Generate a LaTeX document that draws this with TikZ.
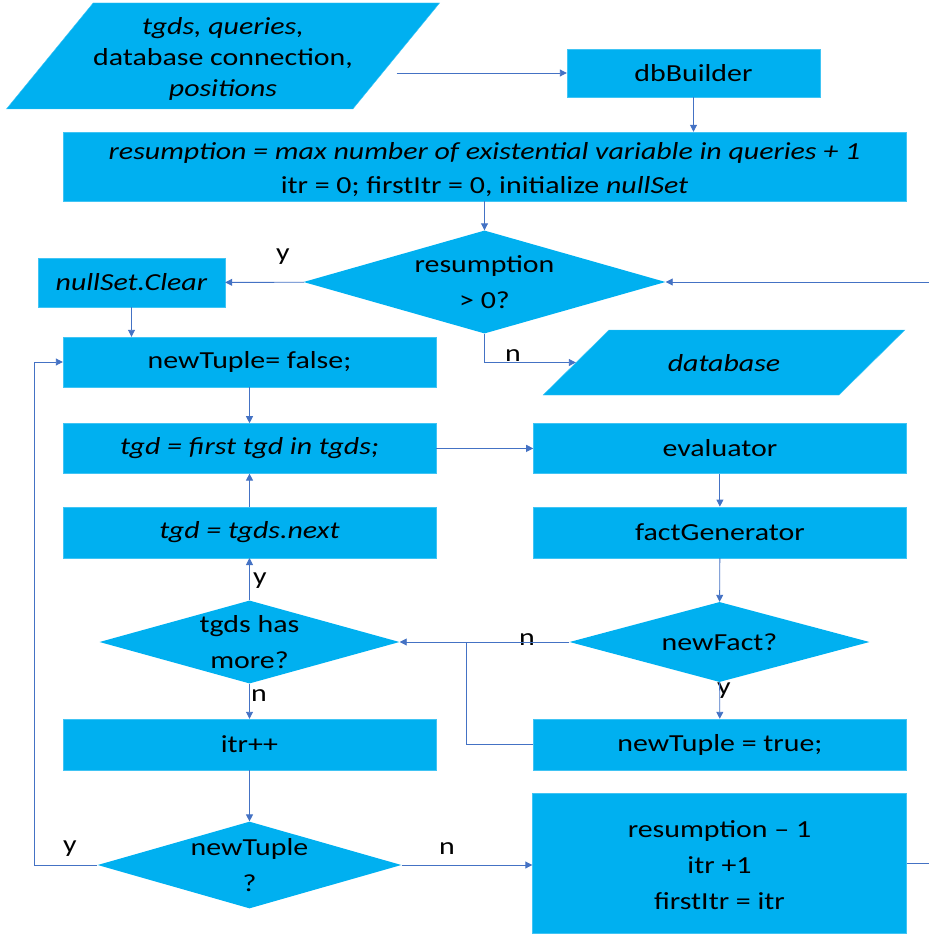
\documentclass[tikz,border=0pt]{standalone}
\usepackage{fontspec}
\setmainfont{Carlito}[FakeStretch=1.22]
\usepackage{tikz}
\usetikzlibrary{shapes,arrows.meta,positioning,calc}
\definecolor{flowBlue}{HTML}{00B0F0}
\definecolor{lineBlue}{HTML}{4472C4}

\begin{document}
\begin{tikzpicture}[
            x=1pt, y=-1pt,
            box/.style={
                    rectangle,
                    draw=flowBlue!75!white,
                    fill=flowBlue,
                    inner sep=0pt,
                    align=center,
                    font=\fontsize{24.5}{36}\selectfont
                },
            io/.style={
                    box,
                    trapezium,
                    trapezium stretches body,
                    minimum width=0pt
                },
            decision/.style={
                    box,
                    diamond,
                    draw=none
                },
            lbl/.style={font=\fontsize{24.5}{30}\selectfont, inner sep=0pt},
            arrow/.style={-{Triangle[length=7pt,width=7pt]}, draw=lineBlue, line width=0.9pt},
            line/.style={draw=lineBlue, line width=0.9pt}
        ]
        \useasboundingbox (0,0) rectangle (928,936);

        \node[io, trapezium left angle=45.4, trapezium right angle=134.6,
              minimum height=106pt,
              font=\fontsize{24.5}{31}\selectfont] (in) at (223,56)
              {\rule{0pt}{22pt}\textit{tgds, queries,}\\database connection,\\\textit{positions}};
        \node[box, minimum width=253pt, minimum height=48pt] (db) at (693.5,73) {dbBuilder};
        \node[box, minimum width=843pt, minimum height=69pt,
              font=\fontsize{24.5}{34}\selectfont] (init) at (484.5,166.5)
              {\rule{0pt}{24pt}\textit{resumption = max number of existential variable in queries + 1}\\
               itr = 0; firstItr = 0, initialize \textit{nullSet}};
        \node[decision, shape aspect=3.5, minimum width=362pt, minimum height=103pt] (res) at (484.5,282) {resumption\\> 0?};
        \node[box, minimum width=187pt, minimum height=49pt] (clr) at (131.5,282.5) {\textit{nullSet.Clear}};
        \node[io, trapezium left angle=15.3, trapezium right angle=164.7,
              text width=230pt, text height=18pt, text depth=0pt,
              minimum height=65pt] (dbout) at (724,362.5) {\textit{database}};

        \node[box, minimum width=373pt, minimum height=50pt] (nt) at (249.5,362) {newTuple= false;};
        \node[box, minimum width=373pt, minimum height=50pt, below=36pt of nt] (first) {\textit{tgd = first tgd in tgds;}};
        \node[box, minimum width=373pt, minimum height=50pt, right=97pt of first] (eval) {evaluator};
        \node[box, minimum width=373pt, minimum height=51pt, below=33pt of first] (next) {\textit{tgd = tgds.next}};
        \node[box, minimum width=373pt, minimum height=51pt, right=97pt of next] (fg) {factGenerator};
        \node[decision, shape aspect=3.6, minimum width=300pt, minimum height=83pt] (more) at (249.5,642) {tgds has\\more?};
        \node[decision, shape aspect=3.75, minimum width=300pt, minimum height=80pt] (nf) at (719.5,642) {newFact?};
        \node[box, minimum width=373pt, minimum height=51pt] (itr) at (249.5,744.5) {itr++};
        \node[box, minimum width=373pt, minimum height=51pt, right=97pt of itr] (ntt) {newTuple = true;};
        \node[decision, shape aspect=3.5, minimum width=301pt, minimum height=86pt] (ntq) at (249.5,865) {newTuple\\?};
        \node[box, minimum width=374pt, minimum height=140pt] (last) at (719.5,863)
              {\rule{0pt}{22pt}resumption -- 1\\itr +1\\firstItr = itr};

        % branch labels
        \node[lbl] (y1) at (283,257) {y};
        \node[lbl] (n1) at (513,356) {n};
        \node[lbl] (y2) at (260,581) {y};
        \node[lbl] (n2) at (527,640) {n};
        \node[lbl] (y3) at (724,691) {y};
        \node[lbl] (n3) at (259,696) {n};
        \node[lbl] (y4) at (70,849) {y};
        \node[lbl] (n4) at (447,849) {n};

        \coordinate (join) at (466,642);
        \coordinate (back) at (34,865);
        \coordinate (loop) at (950,0);

        \draw[arrow] (db.west -| in.east) -- (db.west);
        \draw[arrow] (db.south) -- (db.south |- init.north);
        \draw[arrow] (init) -- (res);
        \draw[arrow] (res) -- (clr);
        \draw[arrow] (res.south) |- (dbout);
        \draw[arrow] (clr.south) -- (clr.south |- nt.north);
        \draw[arrow] (nt) -- (first);
        \draw[arrow] (first) -- (eval);
        \draw[arrow] (eval) -- (fg);
        \draw[arrow] (fg) -- (nf);
        \draw[arrow] (nf) -- (more);
        \draw[line] (ntt.west) -| (join);
        \draw[arrow] (nf) -- (ntt);
        \draw[arrow] (more) -- (next);
        \draw[arrow] (next) -- (first);
        \draw[arrow] (more) -- (itr);
        \draw[arrow] (itr) -- (ntq);
        \draw[arrow] (ntq.west) -- (back) |- (nt.west);
        \draw[arrow] (ntq.east) -- (ntq.east -| last.west);
        \draw[arrow] (last.east) -- (last.east -| loop) |- (res.east);
    \end{tikzpicture}
\end{document}
